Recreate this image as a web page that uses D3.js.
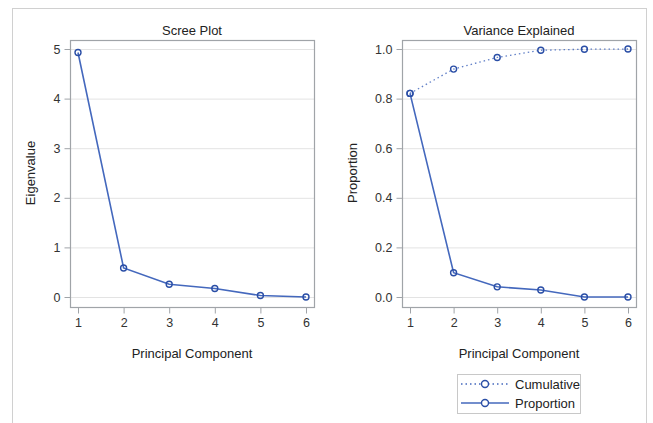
<!DOCTYPE html>
<html>
<head>
<meta charset="utf-8">
<script src="https://cdn.jsdelivr.net/npm/d3@7"></script>
<style>
  body { margin: 0; background: #fff; }
  svg text { font-family: "Liberation Sans Narrow", "Arial Narrow", "Liberation Sans", sans-serif; fill: #222; }
</style>
</head>
<body>
<svg id="chart"></svg>
<script>
// data
var components = [1, 2, 3, 4, 5, 6];
var eigenvalues = [4.93, 0.585, 0.256, 0.17, 0.03, 0.0];
var proportion = [0.821, 0.098, 0.041, 0.028, 0.0, 0.0];
var cumulative = [0.821, 0.919, 0.966, 0.995, 0.999, 1.0];
var screeTicks = [0, 1, 2, 3, 4, 5];
var propTicks = [0, 0.2, 0.4, 0.6, 0.8, 1.0];

var width = 653, height = 423;
var lineColor = "#4468bd", markColor = "#2a4ea6", gridColor = "#e3e3e3", axisColor = "#a0a4a8";

var svg = d3.select("#chart").attr("width", width).attr("height", height);

// outer frame
svg.append("rect").attr("x", 12.5).attr("y", 8.5).attr("width", 634).attr("height", 430)
  .attr("fill", "none").attr("stroke", "#d0d0d0");

function panel(opt) {
  var g = svg.append("g");
  var x = d3.scaleLinear().domain([1, 6]).range([opt.x0 + 8, opt.x1 - 8]);
  var y = d3.scaleLinear().domain([0, opt.ymax]).range([297, 49]);

  // grid
  g.selectAll(".grid").data(opt.ticks).enter().append("line")
    .attr("x1", opt.x0).attr("x2", opt.x1)
    .attr("y1", d => y(d) + 0.5).attr("y2", d => y(d) + 0.5)
    .attr("stroke", gridColor);

  // frame
  g.append("rect").attr("x", opt.x0 + 0.5).attr("y", 40.5)
    .attr("width", opt.x1 - opt.x0).attr("height", 267)
    .attr("fill", "none").attr("stroke", axisColor).attr("stroke-width", 1.2);

  var xAxis = g.append("g").attr("transform", "translate(0,307.5)")
    .call(d3.axisBottom(x).tickValues(components).tickFormat(d3.format("d"))
      .tickSize(6).tickPadding(5).tickSizeOuter(0));
  var yAxis = g.append("g").attr("transform", "translate(" + (opt.x0 + 0.5) + ",0)")
    .call(d3.axisLeft(y).tickValues(opt.ticks).tickFormat(opt.fmt).tickSize(6).tickPadding(4).tickSizeOuter(0));
  [xAxis, yAxis].forEach(function (a) {
    a.select(".domain").remove();
    a.selectAll(".tick line").attr("stroke", axisColor);
    a.selectAll(".tick text").attr("font-size", 12.5).style("fill", "#333")
      .attr("font-family", null);
  });

  g.append("text").attr("x", (opt.x0 + opt.x1) / 2).attr("y", 35)
    .attr("text-anchor", "middle").attr("font-size", 13).text(opt.title);
  g.append("text").attr("x", (opt.x0 + opt.x1) / 2).attr("y", 358)
    .attr("text-anchor", "middle").attr("font-size", 13).text("Principal Component");
  g.append("text").attr("transform", "translate(" + opt.labelX + ",173) rotate(-90)")
    .attr("text-anchor", "middle").attr("font-size", 13).text(opt.ylabel);

  opt.series.forEach(function (s) {
    var line = d3.line().x((d, i) => x(components[i])).y(d => y(d));
    g.append("path").datum(s.values).attr("d", line)
      .attr("fill", "none").attr("stroke", lineColor)
      .attr("stroke-width", s.dash ? 1.3 : 1.6)
      .attr("stroke-dasharray", s.dash || null)
      .attr("opacity", s.dash ? 0.85 : 1);
    g.selectAll(null).data(s.values).enter().append("circle")
      .attr("cx", (d, i) => x(components[i])).attr("cy", d => y(d)).attr("r", 3)
      .attr("fill", "none").attr("stroke", markColor).attr("stroke-width", 1.4);
  });
  return { x: x, y: y };
}

panel({ x0: 70, x1: 314, ymax: 5, ticks: screeTicks, fmt: d3.format("d"),
  title: "Scree Plot", ylabel: "Eigenvalue", labelX: 35,
  series: [{ values: eigenvalues }] });

panel({ x0: 402, x1: 636, ymax: 1.0, ticks: propTicks, fmt: d3.format(".1f"),
  title: "Variance Explained", ylabel: "Proportion", labelX: 357,
  series: [{ values: cumulative, dash: "1.5,3" }, { values: proportion }] });

// legend
var leg = svg.append("g");
leg.append("rect").attr("x", 457.5).attr("y", 374.5).attr("width", 123).attr("height", 39)
  .attr("fill", "#fff").attr("stroke", "#c8c8c8");
var legItems = [{ name: "Cumulative", dash: "1.5,3", y: 384 }, { name: "Proportion", dash: null, y: 403 }];
legItems.forEach(function (d) {
  leg.append("line").attr("x1", 461).attr("x2", 509).attr("y1", d.y).attr("y2", d.y)
    .attr("stroke", lineColor).attr("stroke-width", d.dash ? 1.3 : 1.6)
    .attr("stroke-dasharray", d.dash);
  leg.append("circle").attr("cx", 485).attr("cy", d.y).attr("r", 3.5)
    .attr("fill", "#fff").attr("stroke", markColor).attr("stroke-width", 1.4);
  leg.append("text").attr("x", 515).attr("y", d.y + 4.5).attr("font-size", 13).text(d.name);
});
</script>
</body>
</html>
